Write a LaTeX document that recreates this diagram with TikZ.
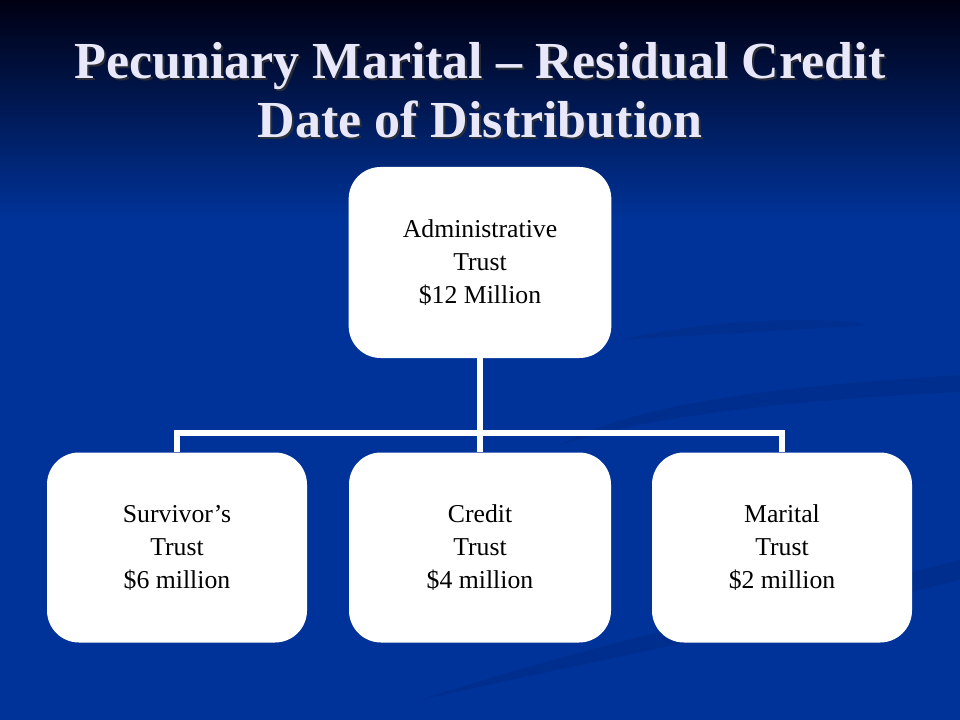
\documentclass[tikz,border=0pt]{standalone}
\usepackage{fontspec}
\setmainfont{Liberation Serif}
\usetikzlibrary{positioning}
\definecolor{bgblue}{RGB}{0,51,153}
\definecolor{bgtop}{RGB}{0,0,18}
\definecolor{titlecol}{RGB}{232,232,250}
\definecolor{swoosh}{RGB}{0,40,130}
\tikzset{
  trustbox/.style={fill=white, draw=none, rounded corners=24pt, minimum width=195pt, minimum height=142.5pt, inner sep=0pt, align=center, font=\fontsize{19.3}{24.75}\selectfont, text=black},
  conn/.style={draw=white, line width=4.5pt, line join=miter},
  titletext/.style={font=\fontsize{39}{44}\selectfont\bfseries, text=titlecol, align=center, inner sep=0pt},
  titleshadow/.style={font=\fontsize{39}{44}\selectfont\bfseries, text=black!80, opacity=0.8, align=center, inner sep=0pt}
}
\begin{document}
\begin{tikzpicture}[x=0.75pt,y=-0.75pt]
\useasboundingbox (0,0) rectangle (960,720);
% background
\fill[bgblue] (0,0) rectangle (960,720);
\shade[top color=bgtop, bottom color=bgblue] (0,0) rectangle (960,220);
% faint swooshes
\fill[swoosh, opacity=0.45] (560,445) .. controls (640,400) and (800,385) .. (960,375) -- (960,392) .. controls (800,400) and (650,415) .. (560,445) -- cycle;
\fill[swoosh, opacity=0.35] (620,340) .. controls (700,320) and (820,315) .. (870,325) .. controls (800,330) and (700,335) .. (620,340) -- cycle;
\fill[swoosh, opacity=0.4] (420,700) .. controls (600,640) and (800,600) .. (960,560) -- (960,580) .. controls (800,620) and (600,660) .. (420,700) -- cycle;
% title
\node[titleshadow] (tshadow) at (482,92) {Pecuniary Marital -- Residual Credit\\Date of Distribution};
\node[titletext] (title) at (480,90) {Pecuniary Marital -- Residual Credit\\Date of Distribution};
% boxes
\node[trustbox, minimum width=197pt, minimum height=143.25pt] (adm) at (480,262.5) {\raisebox{-1.5pt}{\parbox{190pt}{\centering Administrative\\Trust\\\$12 Million}}};
\node[trustbox] (surv) at (177,547.5) {\raisebox{-1.5pt}{\parbox{190pt}{\centering Survivor’s\\Trust\\\$6 million}}};
\node[trustbox, minimum width=196.5pt] (cred) at (480,547.5) {\raisebox{-1.5pt}{\parbox{190pt}{\centering Credit\\Trust\\\$4 million}}};
\node[trustbox] (mar) at (782,547.5) {\raisebox{-1.5pt}{\parbox{190pt}{\centering Marital\\Trust\\\$2 million}}};
% connectors
\coordinate (junc) at (480,433);
\draw[conn] (adm.south) -- (cred.north);
\draw[conn] (surv.north) |- (junc) -| (mar.north);
\end{tikzpicture}
\end{document}
